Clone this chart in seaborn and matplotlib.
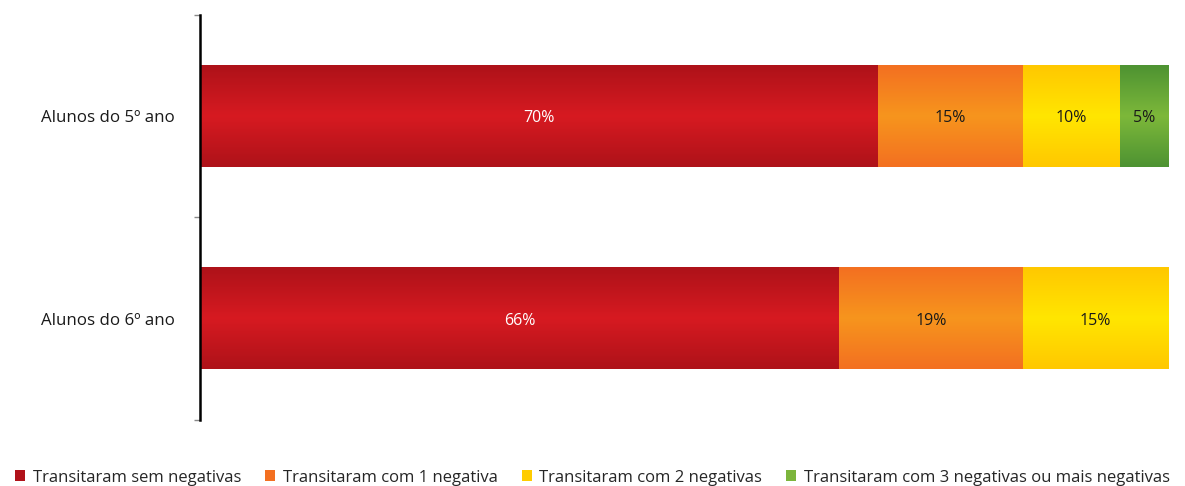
import numpy as np
import pandas as pd
import matplotlib
matplotlib.use('Agg')
import matplotlib.pyplot as plt
from matplotlib.patches import Patch
from matplotlib.colors import to_rgb
import seaborn as sns

# Dados
categorias = ['Alunos do 5º ano', 'Alunos do 6º ano']
series = ['Transitaram sem negativas', 'Transitaram com 1 negativa',
          'Transitaram com 2 negativas', 'Transitaram com 3 negativas ou mais negativas']
sem_neg = [70, 66]
uma_neg = [15, 19]
duas_neg = [10, 15]
tres_neg = [5, 0]

# cores: (borda, centro) do gradiente e cor da legenda
cores_borda = ['#AE1219', '#F37021', '#FFC800', '#4E9332']
cores_centro = ['#D71A21', '#F7951D', '#FFE600', '#7DB83A']
cores_legenda = ['#B0121A', '#F37021', '#FFCC00', '#7CB53C']
cor_texto = ['white', '#1a1a1a', '#1a1a1a', '#1a1a1a']

valores = np.array([sem_neg, uma_neg, duas_neg, tres_neg], dtype=float)
acum = np.cumsum(valores, axis=0)

sns.set_style('white')
plt.rcParams['font.family'] = ['Open Sans', 'DejaVu Sans']

fig = plt.figure(figsize=(11.85, 4.86), dpi=100)
ax = fig.add_axes([200 / 1185, 1 - 420 / 486, 968 / 1185, 405 / 486])

# barras empilhadas (da maior soma para a menor)
for i in range(len(series) - 1, -1, -1):
    df = pd.DataFrame({'cat': categorias, 'val': acum[i]})
    sns.barplot(data=df, x='val', y='cat', orient='h', color=cores_legenda[i],
                width=0.5, saturation=1, ax=ax, zorder=1)

# gradiente vertical por segmento
t = np.linspace(0, 1, 64)
peso = 1 - np.abs(2 * t - 1)
for i in range(len(series)):
    b = np.array(to_rgb(cores_borda[i]))
    c = np.array(to_rgb(cores_centro[i]))
    grad = (b[None, :] * (1 - peso[:, None]) + c[None, :] * peso[:, None])[:, None, :]
    for j in range(len(categorias)):
        if valores[i, j] <= 0:
            continue
        esq = acum[i, j] - valores[i, j]
        ax.imshow(grad, extent=(esq, acum[i, j], j + 0.25, j - 0.25),
                  aspect='auto', interpolation='bilinear', zorder=2)
        ax.text(esq + valores[i, j] / 2, j + 0.01, f'{valores[i, j]:.0f}%',
                ha='center', va='center', fontsize=11.5, color=cor_texto[i], zorder=3)

ax.set_xlim(0, 100)
ax.set_ylim(1.5, -0.5)
ax.set_xlabel('')
ax.set_ylabel('')
ax.set_xticks([])
ax.set_yticks(range(len(categorias)))
ax.set_yticklabels(categorias, fontsize=12.2, color='#1a1a1a')
ax.set_yticks([-0.5, 0.5, 1.5], minor=True)
ax.tick_params(axis='y', which='major', length=0, pad=18)
ax.tick_params(axis='y', which='minor', length=4, width=1, color='#888888', left=True)
for s in ['top', 'right', 'bottom']:
    ax.spines[s].set_visible(False)
ax.spines['left'].set_linewidth(1.8)
ax.spines['left'].set_color('black')

handles = [Patch(facecolor=cores_legenda[i], edgecolor='none', label=series[i])
           for i in range(len(series))]
fig.legend(handles=handles, loc='lower center', ncol=4, frameon=False,
           bbox_to_anchor=(0.5, -0.03), fontsize=12, handlelength=0.6,
           handleheight=0.6, handletextpad=0.45, columnspacing=1.45)

fig.savefig('out.png', dpi=100)
